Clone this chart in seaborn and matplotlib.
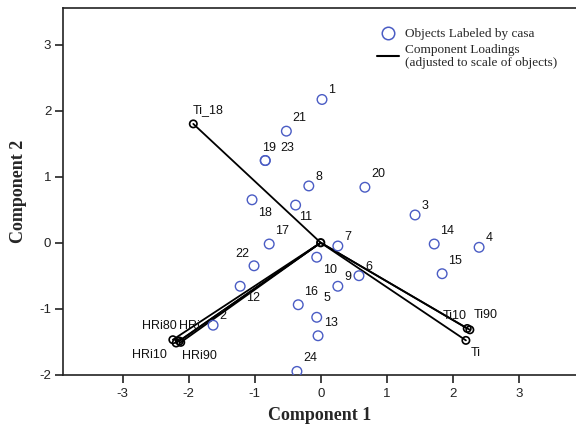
import matplotlib
matplotlib.use("Agg")
import matplotlib.pyplot as plt
from matplotlib.lines import Line2D
import seaborn as sns
import pandas as pd

# Object scores (component 1, component 2), labelled by case number
case_labels = ["1", "2", "3", "4", "5", "6", "7", "8", "9", "10", "11", "12",
               "13", "14", "15", "16", "17", "18", "19", "20", "21", "22", "23", "24"]
comp1 = [0.02, -1.63, 1.43, 2.40, -0.06, 0.58, 0.26, -0.18, 0.26, -0.06, -0.38, -1.22,
         -0.04, 1.72, 1.84, -0.34, -0.78, -1.04, -0.84, 0.67, -0.52, -1.01, -0.84, -0.36]
comp2 = [2.17, -1.25, 0.42, -0.07, -1.13, -0.50, -0.05, 0.86, -0.66, -0.22, 0.57, -0.66,
         -1.41, -0.02, -0.47, -0.94, -0.02, 0.65, 1.245, 0.84, 1.69, -0.35, 1.245, -1.95]

# Component loadings, adjusted to the scale of the objects
load_names = ["Ti_18", "Ti", "Ti10", "Ti90", "HRi80", "HRi", "HRi10", "HRi90"]
load_c1 = [-1.93, 2.20, 2.22, 2.26, -2.24, -2.14, -2.19, -2.12]
load_c2 = [1.80, -1.48, -1.30, -1.32, -1.47, -1.49, -1.52, -1.51]

x_ticks = [-3, -2, -1, 0, 1, 2, 3]
y_ticks = [-2, -1, 0, 1, 2, 3]

objects = pd.DataFrame({"case": case_labels, "c1": comp1, "c2": comp2})
loadings = pd.DataFrame({"name": load_names, "c1": load_c1, "c2": load_c2})

sns.set_theme(style="ticks")
plt.rcParams["font.family"] = ["Liberation Sans", "DejaVu Sans"]
plt.rcParams["axes.unicode_minus"] = False

fig = plt.figure(figsize=(5.76, 4.29), dpi=100)
ax = fig.add_axes([63 / 576, 1 - 374.7 / 429, 1 - 63 / 576, (374.7 - 8) / 429])

blue = "#4a5cc4"

# vectors from the origin to each loading
for _, r in loadings.iterrows():
    ax.plot([0, r.c1], [0, r.c2], color="black", lw=1.3, zorder=2, solid_capstyle="round")
sns.scatterplot(data=loadings, x="c1", y="c2", ax=ax, marker="o", s=28,
                facecolors="none", edgecolor="black", linewidth=1.2, zorder=3)
ax.scatter([0], [0], s=28, facecolors="none", edgecolors="black", linewidths=1.4, zorder=3)

sns.scatterplot(data=objects, x="c1", y="c2", ax=ax, marker="o", s=48,
                facecolors="none", edgecolor=blue, linewidth=1.0, zorder=4)

px = 0.72  # pixel -> point at 100 dpi

# label offsets (pixels, y upward) relative to each point
obj_offsets = {"18": (13, -13), "11": (10, -12), "10": (13, -13), "22": (-12, 12),
               "12": (13, -12), "5": (10, 19), "19": (4, 12.5), "23": (22, 12.5)}
for _, r in objects.iterrows():
    default = (10, 9) if len(r.case) == 1 else (13, 13)
    dx, dy = obj_offsets.get(r.case, default)
    ax.annotate(r.case, (r.c1, r.c2), xytext=(dx * px, dy * px), textcoords="offset points",
                ha="center", va="center", fontsize=9, color="#111111", zorder=5)

load_offsets = {"Ti_18": (15, 14), "Ti": (10, -13), "Ti90": (16, 15), "Ti10": (-13, 12),
                "HRi80": (-13, 14), "HRi": (10, 15), "HRi10": (-27, -12), "HRi90": (19, -14)}
for _, r in loadings.iterrows():
    dx, dy = load_offsets[r["name"]]
    ax.annotate(r["name"], (r.c1, r.c2), xytext=(dx * px, dy * px), textcoords="offset points",
                ha="center", va="center", fontsize=9, color="#111111", zorder=5)

ax.set_xlim(-3.904, 3.868)
ax.set_ylim(-2.0, 3.556)
ax.set_xticks(x_ticks)
ax.set_yticks(y_ticks)
ax.set_xticklabels([str(t) for t in x_ticks])
ax.set_yticklabels([str(t) for t in y_ticks])
ax.tick_params(axis="both", direction="out", length=5.5, width=1.2, labelsize=9.5,
               colors="#222222")
ax.tick_params(axis="x", pad=4)
ax.tick_params(axis="y", pad=3)
for side in ["left", "bottom", "top"]:
    ax.spines[side].set_linewidth(1.2)
    ax.spines[side].set_color("#222222")
ax.spines["right"].set_visible(False)

serif_bold = {"family": ["Liberation Serif", "DejaVu Serif"], "weight": "bold", "size": 13}
ax.set_xlabel("Component 1", fontdict=serif_bold, labelpad=5)
ax.set_ylabel("Component 2", fontdict=serif_bold, labelpad=9)

handles = [Line2D([], [], marker="o", linestyle="none", markersize=9, markerfacecolor="none",
                  markeredgecolor=blue, markeredgewidth=1.1),
           Line2D([], [], color="black", lw=1.5)]
labels = ["Objects Labeled by casa", "Component Loadings\n(adjusted to scale of objects)"]
ax.legend(handles, labels, loc="upper left", bbox_to_anchor=(377 / 576, 1 - 28 / 429),
          bbox_transform=fig.transFigure, frameon=False, borderpad=0, borderaxespad=0,
          handlelength=1.7, handletextpad=0.4, labelspacing=0.25,
          prop={"family": ["Liberation Serif", "DejaVu Serif"], "size": 9.5})

fig.savefig("out.png", dpi=100)
